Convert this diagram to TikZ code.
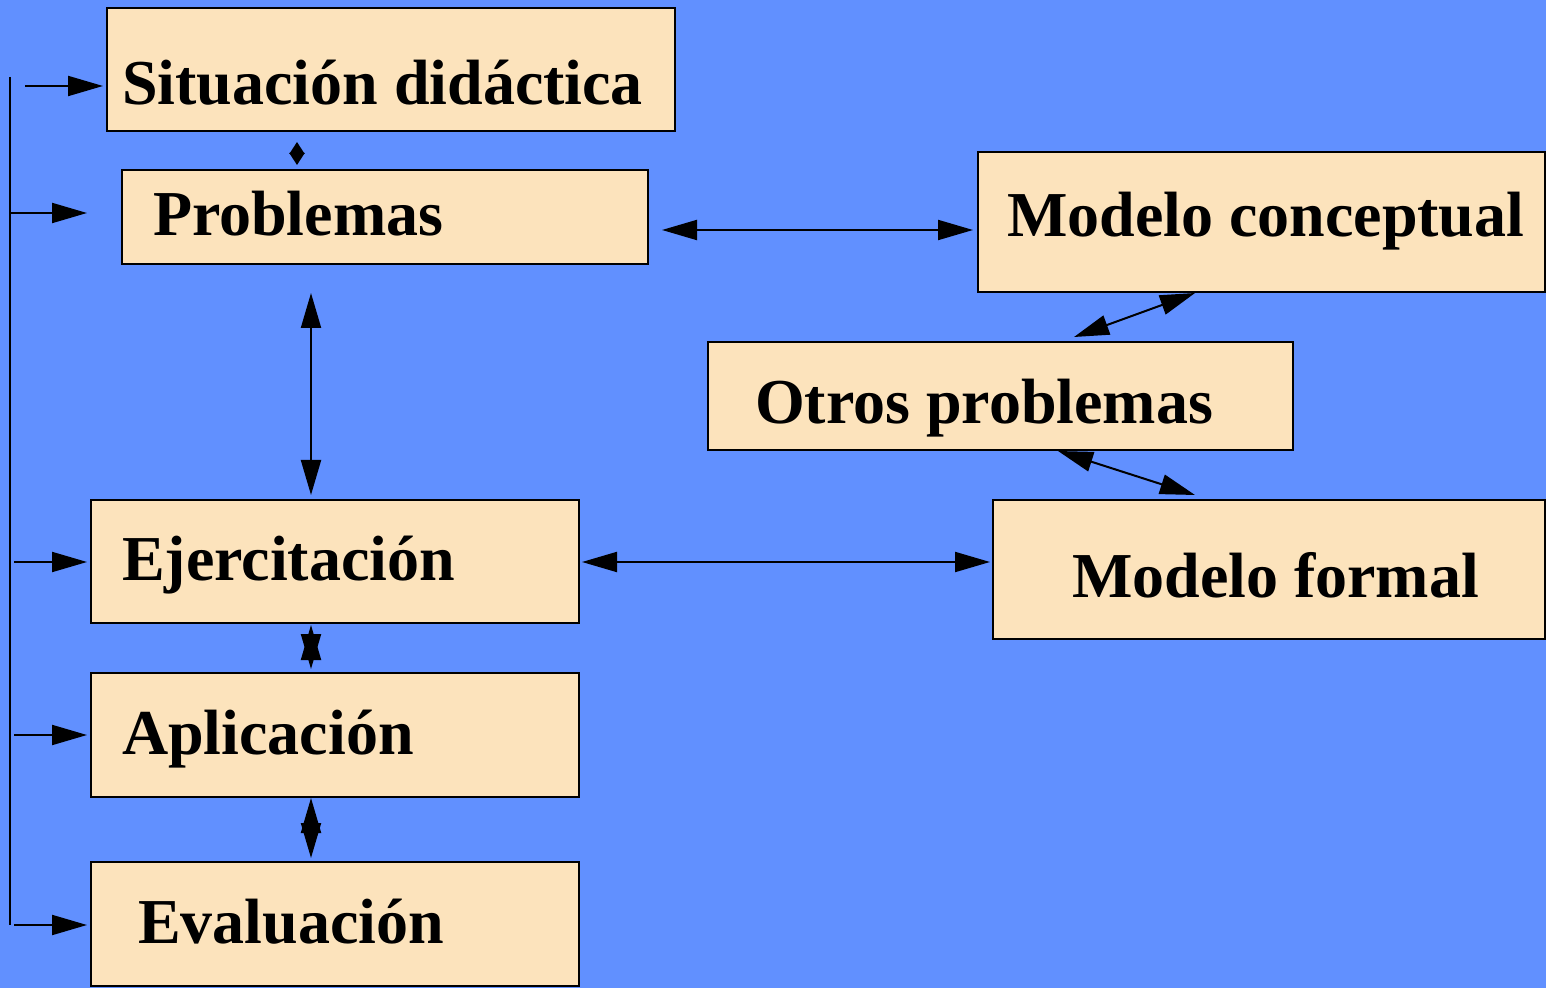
\documentclass[tikz,border=0pt]{standalone}
\usepackage{fontspec}
\setmainfont{Liberation Serif}
\usetikzlibrary{arrows.meta,calc}
\definecolor{bg}{RGB}{97,144,255}
\definecolor{boxfill}{RGB}{252,227,188}
\tikzset{
  box/.style={draw=black, line width=1.3pt, fill=boxfill, rectangle, anchor=north west, inner sep=0pt, outer sep=0pt},
  lbl/.style={anchor=base west, inner sep=0pt, outer sep=0pt, font=\fontsize{32}{38}\selectfont\bfseries},
  conn/.style={line width=1pt},
  bigtip/.style={conn, -{Triangle[length=17.5pt,width=10pt]}},
  dbl/.style={conn, {Triangle[length=17.5pt,width=10pt]}-{Triangle[length=17.5pt,width=10pt]}},
  smalldbl/.style={conn, {Triangle[length=6pt,width=7.5pt]}-{Triangle[length=6pt,width=7.5pt]}}
}
\begin{document}
\begin{tikzpicture}[x=0.5pt,y=-0.5pt]
\fill[bg] (0,0) rectangle (1546,988);
\useasboundingbox (0,0) rectangle (1546,988);
% boxes
\node[box, minimum width=284pt, minimum height=61.5pt] (sit) at (107,8) {};
\node[box, minimum width=263pt, minimum height=47pt] (prob) at (122,170) {};
\node[box, minimum width=283.5pt, minimum height=70pt] (mc) at (978,152) {};
\node[box, minimum width=292.5pt, minimum height=54pt] (otros) at (708,342) {};
\node[box, minimum width=244pt, minimum height=61.5pt] (ej) at (91,500) {};
\node[box, minimum width=276pt, minimum height=69.5pt] (mf) at (993,500) {};
\node[box, minimum width=244pt, minimum height=62pt] (apl) at (91,673) {};
\node[box, minimum width=244pt, minimum height=62pt] (ev) at (91,862) {};
% labels
\node[lbl] (tsit) at (122,105) {Situación didáctica};
\node[lbl] (tprob) at (153,236) {Problemas};
\node[lbl] (tmc) at (1007,237) {Modelo conceptual};
\node[lbl] (totros) at (755,424) {Otros problemas};
\node[lbl] (tej) at (122,580) {Ejercitación};
\node[lbl] (tmf) at (1072,597) {Modelo formal};
\node[lbl] (tapl) at (122,754) {Aplicación};
\node[lbl] (tev) at (138,943) {Evaluación};
% left spine
\coordinate (spinetop) at (10,77);
\coordinate (spinebot) at (10,925);
\coordinate (s1) at (25,86);
\coordinate (s2) at (10,213);
\coordinate (s3) at (14,562);
\coordinate (s4) at (14,735);
\coordinate (s5) at (14,925);
\draw[conn] (spinetop) -- (spinebot);
\draw[bigtip] (s1) -- ($(sit.north west)+(-4,78)$);
\draw[bigtip] (s2) -- ($(prob.north west)+(-35,43)$);
\draw[bigtip] (s3) -- ($(ej.north west)+(-4,62)$);
\draw[bigtip] (s4) -- ($(apl.north west)+(-4,62)$);
\draw[bigtip] (s5) -- ($(ev.north west)+(-4,63)$);
% vertical connectors
\draw[smalldbl] ($(sit.south west)+(190,11)$) -- ($(prob.north west)+(175,-5)$);
\draw[dbl] ($(prob.south west)+(189,29)$) -- ($(ej.north west)+(220,-5)$);
\draw[dbl] ($(ej.south west)+(220,2)$) -- ($(apl.north west)+(220,-4)$);
\draw[dbl] ($(apl.south west)+(220,1)$) -- ($(ev.north west)+(220,-4)$);
% horizontal connectors
\draw[dbl] ($(prob.north east)+(14,60)$) -- ($(mc.north west)+(-5,78)$);
\draw[dbl] ($(ej.north east)+(3,62)$) -- ($(mf.north west)+(-3,62)$);
% diagonal connectors
\draw[dbl] ($(mc.south west)+(217,1)$) -- ($(otros.north west)+(366,-5)$);
\draw[dbl] ($(otros.south west)+(350,1)$) -- ($(mf.north west)+(202,-5)$);
\end{tikzpicture}
\end{document}
